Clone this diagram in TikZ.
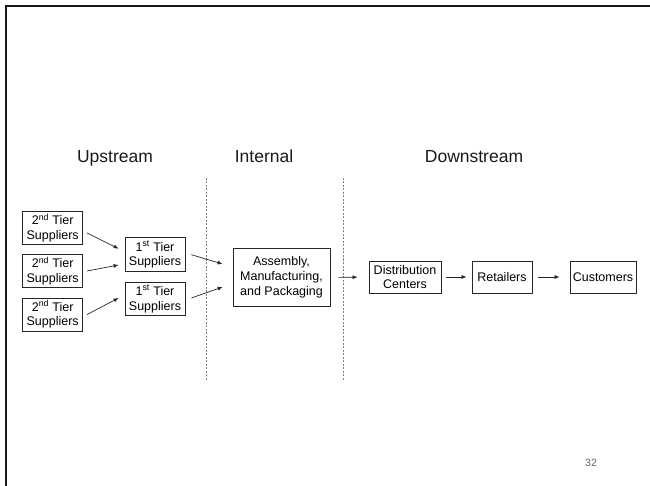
\documentclass[tikz,border=0pt]{standalone}
\usepackage{fontspec}
\setmainfont{Liberation Sans}
\usetikzlibrary{calc,arrows.meta}
\begin{document}
\begin{tikzpicture}[x=1pt,y=-1pt,
  box/.style={draw=black!85,line width=0.8pt,inner sep=0pt,align=center,
    font=\fontsize{12.5}{14.8}\selectfont},
  arr/.style={draw=black!85,line width=0.7pt,-{Latex[length=5pt,width=4pt]}},
  sep/.style={draw=black!50,line width=0.6pt,dash pattern=on 2pt off 1.5pt},
  head/.style={font=\fontsize{17.5}{20}\selectfont,text=black!90,anchor=base}]
\useasboundingbox (0,0) rectangle (650,486);
\draw[line width=2.8pt,black!90] (6,487) -- (6,6) -- (651,6);
% section headings
\node[head] (up) at (115,163) {Upstream};
\node[head] (in) at (264,163) {Internal};
\node[head] (down) at (474,163) {Downstream};
% dividers
\coordinate (l1t) at (206,178); \coordinate (l1b) at (206,381);
\coordinate (l2t) at (343,178); \coordinate (l2b) at (343,381);
\draw[sep] (l1t) -- (l1b);
\draw[sep] (l2t) -- (l2b);
% boxes
\node[box,minimum width=60pt,minimum height=33pt] (s1) at (52.7,228) {2\textsuperscript{nd} Tier\\Suppliers};
\node[box,minimum width=60pt,minimum height=33pt] (s2) at (52.7,271) {2\textsuperscript{nd} Tier\\Suppliers};
\node[box,minimum width=60pt,minimum height=33pt] (s3) at (52.7,314.5) {2\textsuperscript{nd} Tier\\Suppliers};
\node[box,minimum width=60pt,minimum height=34pt] (t1) at (155,254.7) {1\textsuperscript{st} Tier\\Suppliers};
\node[box,minimum width=60pt,minimum height=33pt] (t2) at (155,299) {1\textsuperscript{st} Tier\\Suppliers};
\node[box,minimum width=97pt,minimum height=58pt] (a) at (281.5,277.5) {Assembly,\\Manufacturing,\\and Packaging};
\node[box,minimum width=72pt,minimum height=32pt] (d) at (405,277) {Distribution\\Centers};
\node[box,minimum width=60pt,minimum height=32pt] (r) at (502,277) {Retailers};
\node[box,minimum width=66pt,minimum height=32pt] (c) at (603,277) {Customers};
% arrows
\draw[arr] ($(s1.east)+(4,5)$) -- ($(t1.west)+(-6,-6)$);
\draw[arr] ($(s2.east)+(4,0)$) -- ($(t1.west)+(-6,10.3)$);
\draw[arr] ($(s3.east)+(4,0)$) -- ($(t2.west)+(-6,-1)$);
\draw[arr] ($(t1.east)+(6,0)$) -- ($(a.west)+(-10,-13.5)$);
\draw[arr] ($(t2.east)+(6,-1)$) -- ($(a.west)+(-10,9.5)$);
\draw[arr,shorten <=8pt,shorten >=11pt] (a.east) -- (d.west);
\draw[arr,shorten <=5pt,shorten >=5pt] (d.east) -- (r.west);
\draw[arr,shorten <=6pt,shorten >=10pt] (r.east) -- (c.west);
% page number
\node[font=\fontsize{10.5}{12}\selectfont,text=black!60] (pg) at (591,463) {32};
\end{tikzpicture}
\end{document}
